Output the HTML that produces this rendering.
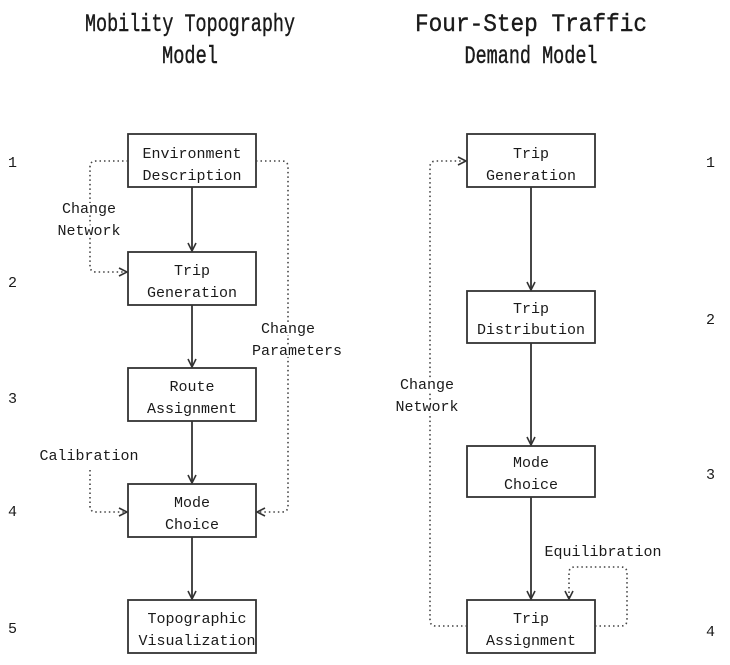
<!DOCTYPE html>
<html><head><meta charset="utf-8"><style>
html,body{margin:0;padding:0;background:#fff;}
svg{display:block;}
text{font-family:"Liberation Mono","DejaVu Sans Mono",monospace;fill:#1a1a1a;}
.t{font-size:25px;}
.b{font-size:15px;}
</style></head><body>
<svg width="730" height="665" viewBox="0 0 730 665" xmlns="http://www.w3.org/2000/svg">
<defs>
<marker id="a" viewBox="0 0 10 10" refX="9" refY="5" markerWidth="10" markerHeight="10" orient="auto" markerUnits="userSpaceOnUse">
<path d="M1,1 L9,5 L1,9" fill="none" stroke="#333" stroke-width="1.6"/>
</marker>
</defs>
<g class="t" text-anchor="middle" stroke="#1a1a1a" stroke-width="0.4">
<text x="190" y="31" textLength="210" lengthAdjust="spacingAndGlyphs">Mobility Topography</text>
<text x="190" y="63" textLength="56" lengthAdjust="spacingAndGlyphs">Model</text>
<text x="531" y="31" textLength="232" lengthAdjust="spacingAndGlyphs">Four-Step Traffic</text>
<text x="531" y="63" textLength="133" lengthAdjust="spacingAndGlyphs">Demand Model</text>
</g>
<g class="b">
<text x="8" y="167">1</text><text x="8" y="287">2</text><text x="8" y="403">3</text><text x="8" y="516">4</text><text x="8" y="633">5</text>
<text x="706" y="167">1</text><text x="706" y="324">2</text><text x="706" y="479">3</text><text x="706" y="636">4</text>
</g>
<g fill="#fff" stroke="#333" stroke-width="1.8">
<rect x="128" y="134" width="128" height="53"/>
<rect x="128" y="252" width="128" height="53"/>
<rect x="128" y="368" width="128" height="53"/>
<rect x="128" y="484" width="128" height="53"/>
<rect x="128" y="600" width="128" height="53"/>
<rect x="467" y="134" width="128" height="53"/>
<rect x="467" y="291" width="128" height="52"/>
<rect x="467" y="446" width="128" height="51"/>
<rect x="467" y="600" width="128" height="53"/>
</g>
<g stroke="#333" stroke-width="1.8" fill="none" marker-end="url(#a)">
<line x1="192" y1="187" x2="192" y2="251"/>
<line x1="192" y1="305" x2="192" y2="367"/>
<line x1="192" y1="421" x2="192" y2="483"/>
<line x1="192" y1="537" x2="192" y2="599"/>
<line x1="531" y1="187" x2="531" y2="290"/>
<line x1="531" y1="343" x2="531" y2="445"/>
<line x1="531" y1="497" x2="531" y2="599"/>
</g>
<g stroke="#444" stroke-width="1.6" fill="none" stroke-dasharray="1.5 3" marker-end="url(#a)">
<path d="M128,161 H96 Q90,161 90,167 V266 Q90,272 96,272 H127"/>
<path d="M256,161 H282 Q288,161 288,167 V506 Q288,512 282,512 H257"/>
<path d="M90,470 V506 Q90,512 96,512 H127"/>
<path d="M467,626 H436 Q430,626 430,620 V167 Q430,161 436,161 H466"/>
<path d="M595,626 H621 Q627,626 627,620 V573 Q627,567 621,567 H575 Q569,567 569,573 V599"/>
</g>
<g class="b" text-anchor="middle">
<text x="192" y="158">Environment</text><text x="192" y="180">Description</text>
<text x="192" y="275">Trip</text><text x="192" y="297">Generation</text>
<text x="192" y="391">Route</text><text x="192" y="413">Assignment</text>
<text x="192" y="507">Mode</text><text x="192" y="529">Choice</text>
<text x="197" y="623">Topographic</text><text x="197" y="645">Visualization</text>
<text x="531" y="158">Trip</text><text x="531" y="180">Generation</text>
<text x="531" y="313">Trip</text><text x="531" y="334">Distribution</text>
<text x="531" y="467">Mode</text><text x="531" y="489">Choice</text>
<text x="531" y="623">Trip</text><text x="531" y="645">Assignment</text>
<text x="89" y="213" style="paint-order:stroke" stroke="#fff" stroke-width="4">Change</text>
<text x="89" y="235" style="paint-order:stroke" stroke="#fff" stroke-width="4">Network</text>
<text x="288" y="333" style="paint-order:stroke" stroke="#fff" stroke-width="4">Change</text>
<text x="297" y="355" style="paint-order:stroke" stroke="#fff" stroke-width="4">Parameters</text>
<text x="89" y="460">Calibration</text>
<text x="427" y="389" style="paint-order:stroke" stroke="#fff" stroke-width="4">Change</text>
<text x="427" y="411" style="paint-order:stroke" stroke="#fff" stroke-width="4">Network</text>
<text x="603" y="556">Equilibration</text>
</g>
</svg>
</body></html>
